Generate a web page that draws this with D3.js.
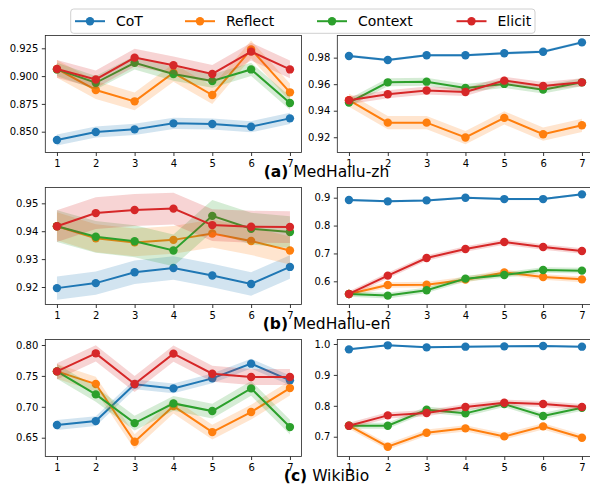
<!DOCTYPE html>
<html>
<head>
<meta charset="utf-8">
<script src="https://cdn.jsdelivr.net/npm/d3@7"></script>
<style>
  body { margin: 0; background: #fff; }
  svg { font-family: "DejaVu Sans", sans-serif; }
</style>
</head>
<body>
<div id="chart"></div>
<script>
// series names + colours (matplotlib tab10)
var methods = ["CoT", "Reflect", "Context", "Elicit"];
var colors = ["#1f77b4", "#ff7f0e", "#2ca02c", "#d62728"];
var steps = [1, 2, 3, 4, 5, 6, 7];

// values per panel: [CoT, Reflect, Context, Elicit]
var zhLeft = [
  [0.8425, 0.8497, 0.8521, 0.8575, 0.8569, 0.8545, 0.8620],
  [0.9064, 0.8875, 0.8773, 0.9030, 0.8830, 0.9240, 0.8854],
  [0.9060, 0.8940, 0.9120, 0.9019, 0.8956, 0.9060, 0.8758],
  [0.9064, 0.8970, 0.9166, 0.9097, 0.9019, 0.9220, 0.9060]
];
var zhRight = [
  [0.9813, 0.9782, 0.9818, 0.9818, 0.9833, 0.9845, 0.9915],
  [0.9479, 0.9310, 0.9310, 0.9198, 0.9346, 0.9223, 0.9290],
  [0.9461, 0.9614, 0.9619, 0.9572, 0.9602, 0.9559, 0.9614],
  [0.9479, 0.9524, 0.9552, 0.9541, 0.9627, 0.9587, 0.9614]
];
var enLeft = [
  [0.9196, 0.9214, 0.9253, 0.9268, 0.9241, 0.9211, 0.9272],
  [0.9418, 0.9375, 0.9360, 0.9369, 0.9392, 0.9365, 0.9331],
  [0.9418, 0.9380, 0.9364, 0.9331, 0.9455, 0.9409, 0.9397],
  [0.9418, 0.9465, 0.9476, 0.9481, 0.9422, 0.9416, 0.9415]
];
var enRight = [
  [0.8916, 0.8869, 0.8904, 0.9000, 0.8950, 0.8950, 0.9120],
  [0.5546, 0.5870, 0.5880, 0.6060, 0.6320, 0.6156, 0.6070],
  [0.5546, 0.5487, 0.5678, 0.6096, 0.6228, 0.6407, 0.6383],
  [0.5546, 0.6204, 0.6837, 0.7160, 0.7410, 0.7231, 0.7088]
];
var bioLeft = [
  [0.6705, 0.6769, 0.7363, 0.7298, 0.7460, 0.7698, 0.7428],
  [0.7573, 0.7368, 0.6434, 0.7012, 0.6591, 0.6915, 0.7303],
  [0.7573, 0.7201, 0.6736, 0.7055, 0.6931, 0.7298, 0.6672],
  [0.7573, 0.7865, 0.7368, 0.7860, 0.7536, 0.7482, 0.7482]
];
var bioRight = [
  [0.9827, 0.9957, 0.9892, 0.9914, 0.9924, 0.9935, 0.9914],
  [0.7356, 0.6677, 0.7130, 0.7270, 0.7011, 0.7335, 0.6968],
  [0.7356, 0.7356, 0.7874, 0.7756, 0.8058, 0.7669, 0.7939],
  [0.7356, 0.7691, 0.7766, 0.7961, 0.8101, 0.8058, 0.7961]
];

// half-width of the shaded band, per series
var zhLeftSpread = [0.005, 0.008, 0.006, 0.008];
var zhRightSpread = [0.001, 0.005, 0.003, 0.003];
var enLeftSpread = [0.0042, 0.005, 0.0057, 0.0057];
var enRightSpread = [0.004, 0.01, 0.01, 0.01];
var bioLeftSpread = [0.008, 0.012, 0.012, 0.013];
var bioRightSpread = [0.003, 0.01, 0.01, 0.01];

// y ticks + limits
var zhLeftTicks = [0.850, 0.875, 0.900, 0.925];
var zhRightTicks = [0.92, 0.94, 0.96, 0.98];
var enLeftTicks = [0.92, 0.93, 0.94, 0.95];
var enRightTicks = [0.6, 0.7, 0.8, 0.9];
var bioLeftTicks = [0.65, 0.70, 0.75, 0.80];
var bioRightTicks = [0.7, 0.8, 0.9, 1.0];

var captions = [["(a)", "MedHallu-zh"], ["(b)", "MedHallu-en"], ["(c)", "WikiBio"]];

var panels = [
  {row: 0, col: 0, data: zhLeft, spread: zhLeftSpread, ticks: zhLeftTicks, fmt: ".3f", dom: [0.8313, 0.9365]},
  {row: 0, col: 1, data: zhRight, spread: zhRightSpread, ticks: zhRightTicks, fmt: ".2f", dom: [0.9085, 0.9967]},
  {row: 1, col: 0, data: enLeft, spread: enLeftSpread, ticks: enLeftTicks, fmt: ".2f", dom: [0.91373, 0.95567]},
  {row: 1, col: 1, data: enRight, spread: enRightSpread, ticks: enRightTicks, fmt: ".1f", dom: [0.5168, 0.9366]},
  {row: 2, col: 0, data: bioLeft, spread: bioLeftSpread, ticks: bioLeftTicks, fmt: ".2f", dom: [0.6196, 0.8089]},
  {row: 2, col: 1, data: bioRight, spread: bioRightSpread, ticks: bioRightTicks, fmt: ".1f", dom: [0.636, 1.0146]}
];

var W = 590, H = 484;
var colX = [45.3, 337.3], pw = 256.3;
var rowY = [35.5, 187.5, 339.5], ph = 117;

var svg = d3.select("#chart").append("svg")
  .attr("width", W).attr("height", H);

panels.forEach(function(p) {
  var g = svg.append("g")
    .attr("transform", "translate(" + colX[p.col] + "," + rowY[p.row] + ")");

  var x = d3.scaleLinear().domain([0.7, 7.3]).range([0, pw]);
  var y = d3.scaleLinear().domain(p.dom).range([ph, 0]);

  // clip so the cut-off right column behaves like the reference
  var clipId = "clip" + p.row + p.col;
  g.append("clipPath").attr("id", clipId)
    .append("rect").attr("x", 0).attr("y", 0).attr("width", pw).attr("height", ph);
  var plot = g.append("g").attr("clip-path", "url(#" + clipId + ")");

  p.data.forEach(function(vals, si) {
    var pts = steps.map(function(s, i) { return {s: s, v: vals[i]}; });
    var band = d3.area()
      .x(function(d) { return x(d.s); })
      .y0(function(d) { return y(d.v - p.spread[si]); })
      .y1(function(d) { return y(d.v + p.spread[si]); });
    plot.append("path").datum(pts)
      .attr("d", band)
      .attr("fill", colors[si])
      .attr("fill-opacity", 0.2);
    plot.append("path").datum(pts)
      .attr("d", d3.line().x(function(d) { return x(d.s); }).y(function(d) { return y(d.v); }))
      .attr("fill", "none")
      .attr("stroke", colors[si])
      .attr("stroke-width", 2);
    plot.selectAll(".pt" + si).data(pts).enter()
      .append("circle")
      .attr("cx", function(d) { return x(d.s); })
      .attr("cy", function(d) { return y(d.v); })
      .attr("r", 4.2)
      .attr("fill", colors[si]);
  });

  // axes
  var xa = g.append("g").attr("transform", "translate(0," + ph + ")")
    .call(d3.axisBottom(x).tickValues(steps).tickFormat(d3.format("d")).tickSize(3.5).tickPadding(3.5).tickSizeOuter(0));
  var ya = g.append("g")
    .call(d3.axisLeft(y).tickValues(p.ticks).tickFormat(d3.format(p.fmt)).tickSize(3.5).tickPadding(3.5).tickSizeOuter(0));
  [xa, ya].forEach(function(a) {
    a.select(".domain").remove();
    a.selectAll("text").attr("font-size", 10).attr("fill", "#000").attr("font-family", "DejaVu Sans");
    a.selectAll("line").attr("stroke", "#000").attr("stroke-width", 0.8);
  });

  g.append("rect")
    .attr("x", 0).attr("y", 0).attr("width", pw).attr("height", ph)
    .attr("fill", "none").attr("stroke", "#222").attr("stroke-width", 0.8);
});

// captions
captions.forEach(function(c, i) {
  var t = svg.append("text")
    .attr("x", 326.5).attr("y", rowY[i] + ph + 24.5)
    .attr("text-anchor", "middle")
    .attr("font-size", 15.5);
  t.append("tspan").attr("font-weight", "bold").text(c[0]);
  t.append("tspan").text(" " + c[1]);
});

// legend
var leg = svg.append("g");
leg.append("rect")
  .attr("x", 70.7).attr("y", 9).attr("width", 464.3).attr("height", 24.3)
  .attr("rx", 3).attr("fill", "#fff").attr("stroke", "#d0d0d0").attr("stroke-width", 1);
var handleX = [75, 185, 317, 456.5];
methods.forEach(function(m, i) {
  var lx = handleX[i];
  leg.append("line")
    .attr("x1", lx).attr("x2", lx + 30).attr("y1", 21.2).attr("y2", 21.2)
    .attr("stroke", colors[i]).attr("stroke-width", 2);
  leg.append("circle").attr("cx", lx + 15).attr("cy", 21.2).attr("r", 4.2).attr("fill", colors[i]);
  leg.append("text")
    .attr("x", lx + 41).attr("y", 26.3)
    .attr("font-size", 14)
    .text(m);
});
</script>
</body>
</html>
